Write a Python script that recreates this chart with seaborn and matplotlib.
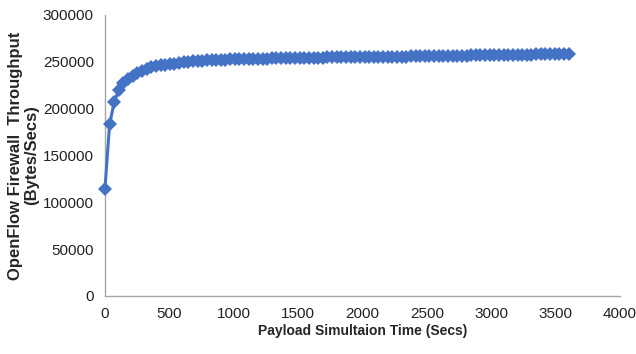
import numpy as np
import pandas as pd
import seaborn as sns
import matplotlib
matplotlib.use('Agg')
import matplotlib.pyplot as plt

# payload simulation time, one sample every 36 s
time_secs = list(range(0, 3601, 36))
throughput = [
    114000, 183000, 207000, 220000, 227000, 231500, 235000, 238000, 240500, 242500,
    244000, 245000, 246000, 246500, 247500, 248000, 249000, 249500, 250000, 250500,
    251000, 251000, 251500, 251500, 252000, 252000, 252000, 252500, 252500, 252500,
    252500, 253000, 253000, 253000, 253000, 253000, 253500, 253500, 253500, 253500,
    253500, 253500, 254000, 254000, 254000, 254000, 254000, 254000, 254500, 254500,
    254500, 254500, 254500, 254500, 254500, 255000, 255000, 255000, 255000, 255000,
    255000, 255500, 255500, 255500, 255500, 255500, 256000, 256000, 256000, 256000,
    256000, 256000, 256500, 256500, 256500, 256500, 256500, 256500, 256500, 257000,
    257000, 257000, 257000, 257000, 257000, 257000, 257000, 257500, 257500, 257500,
    257500, 257500, 257500, 258000, 258000, 258000, 258000, 258000, 258000, 258000,
    258000,
]
x_ticks = [0, 500, 1000, 1500, 2000, 2500, 3000, 3500, 4000]
y_ticks = [0, 50000, 100000, 150000, 200000, 250000, 300000]

df = pd.DataFrame({'Time': time_secs, 'Throughput': throughput})

sns.set_style('white')
plt.rcParams['font.family'] = ['Liberation Sans', 'DejaVu Sans']

fig = plt.figure(figsize=(6.36, 3.54), dpi=100)
ax = fig.add_axes([0.165, 0.164, 0.81, 0.794])

sns.lineplot(data=df, x='Time', y='Throughput', ax=ax, color='#4472C4',
             marker='D', markersize=7, markeredgewidth=0, linewidth=2.2,
             clip_on=False, zorder=3)

ax.set_xlim(0, 4000)
ax.set_ylim(0, 300000)
ax.set_xticks(x_ticks)
ax.set_yticks(y_ticks)
ax.set_xticklabels([str(v) for v in x_ticks], fontsize=11, color='#222222')
ax.set_yticklabels([str(v) for v in y_ticks], fontsize=11, color='#222222')

for side in ['top', 'right']:
    ax.spines[side].set_visible(False)
for side in ['left', 'bottom']:
    ax.spines[side].set_color('#a6a6a6')
    ax.spines[side].set_linewidth(1)
ax.tick_params(axis='both', direction='out', length=5, width=1, color='#a6a6a6', pad=3)

ax.set_xlabel('Payload Simultaion Time (Secs)', fontsize=10, fontweight='bold',
              labelpad=2)
ax.set_ylabel('OpenFlow Firewall  Throughput\n(Bytes/Secs)', fontsize=12,
              fontweight='bold', labelpad=3, linespacing=1.05)

fig.savefig('out.png', dpi=100)
